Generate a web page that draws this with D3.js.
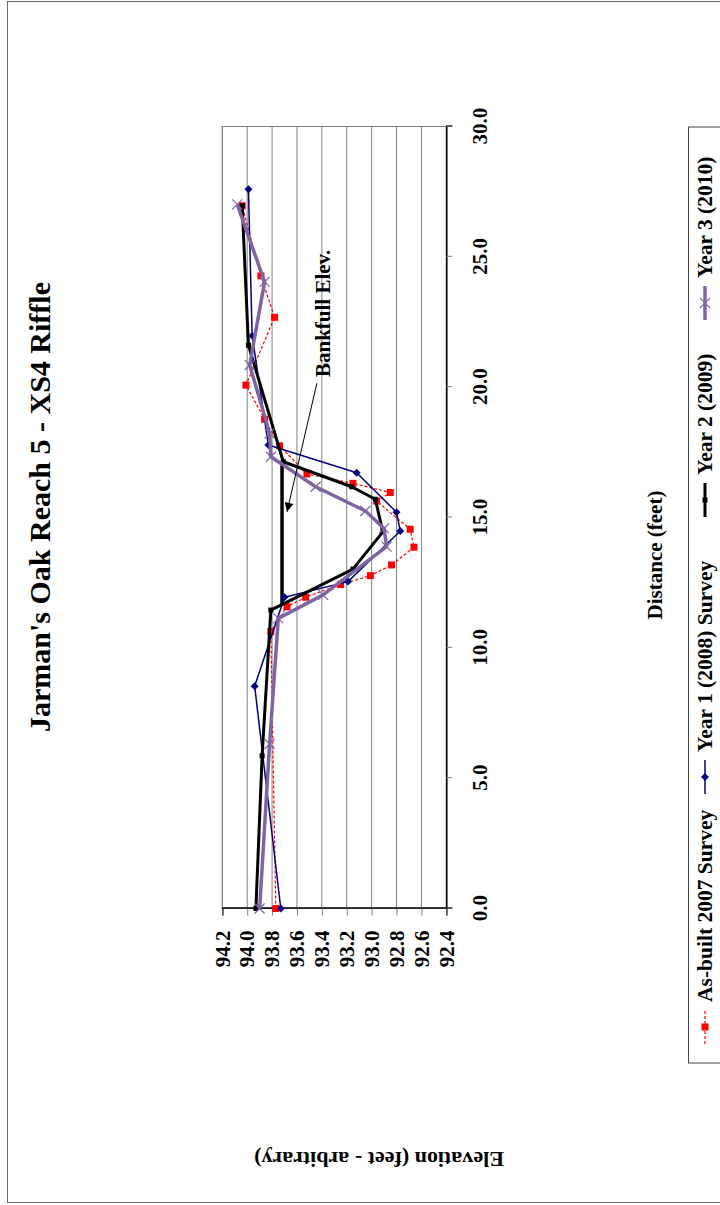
<!DOCTYPE html>
<html>
<head>
<meta charset="utf-8">
<script src="https://cdn.jsdelivr.net/npm/d3@7"></script>
<style>
  body { margin: 0; background: #fff; }
  text { font-family: "Liberation Serif", "Times New Roman", serif; font-weight: bold; fill: #000; }
</style>
</head>
<body>
<svg id="chart" width="720" height="1205"></svg>
<script>
// survey data, distance (feet) vs elevation (feet - arbitrary)
var asBuiltDist = [0, 10.62, 11.58, 11.94, 12.43, 12.77, 13.18, 13.86, 14.55, 15.63, 15.96, 16.31, 16.67, 17.75, 18.77, 20.08, 22.68, 24.27, 26.96];
var asBuiltElev = [93.77, 93.81, 93.68, 93.53, 93.25, 93.01, 92.84, 92.66, 92.69, 92.96, 92.85, 93.15, 93.52, 93.74, 93.86, 94.01, 93.78, 93.89, 94.04];

var year1Dist = [0, 8.53, 11.94, 12.54, 14.48, 15.2, 16.72, 17.78, 21.97, 27.59];
var year1Elev = [93.73, 93.94, 93.70, 93.19, 92.77, 92.80, 93.12, 93.83, 93.96, 93.99];

var year2Dist = [0, 5.86, 11.45, 13.02, 14.45, 15.70, 16.18, 17.14, 21.61, 26.96];
var year2Elev = [93.93, 93.88, 93.81, 93.15, 92.91, 92.97, 93.16, 93.71, 93.99, 94.04];

var year3Dist = [0, 6.31, 11.13, 12.03, 13.88, 14.58, 15.25, 16.18, 17.33, 18.23, 20.85, 24.04, 27.01];
var year3Elev = [93.90, 93.82, 93.75, 93.39, 92.88, 92.90, 93.05, 93.45, 93.81, 93.82, 93.98, 93.86, 94.08];

var bankfullDist = [11.62, 17.17];
var bankfullElev = [93.72, 93.72];

var seriesNames = ["As-built 2007 Survey", "Year 1 (2008) Survey", "Year 2 (2009)", "Year 3 (2010)"];
var distTicks = [0, 5, 10, 15, 20, 25, 30];
var elevTicks = [92.4, 92.6, 92.8, 93.0, 93.2, 93.4, 93.6, 93.8, 94.0, 94.2];

var W = 1205, H = 720;   // chart is laid out sideways, then turned
var svg = d3.select("#chart");

// outer frame
svg.append("rect").attr("x", 7.5).attr("y", 1.5).attr("width", 730).attr("height", 1201)
  .attr("fill", "none").attr("stroke", "#666");

var g = svg.append("g").attr("transform", "translate(0," + W + ") rotate(-90)");

var x = d3.scaleLinear().domain([0, 30]).range([296.5, 1078.5]);
var y = d3.scaleLinear().domain([92.4, 94.2]).range([446.3, 222.3]);

// gridlines
g.selectAll(".grid").data(elevTicks).enter().append("line")
  .attr("x1", x(0)).attr("x2", x(30))
  .attr("y1", function(d) { return y(d); }).attr("y2", function(d) { return y(d); })
  .attr("stroke", "#808080").attr("stroke-width", 1);

g.append("rect").attr("x", x(0)).attr("y", y(94.2))
  .attr("width", x(30) - x(0)).attr("height", y(92.4) - y(94.2))
  .attr("fill", "none").attr("stroke", "#808080");

// axes
var fmt = d3.format(".1f");
var xAxis = g.append("g").attr("transform", "translate(0," + y(92.4) + ")")
  .call(d3.axisBottom(x).tickValues(distTicks).tickSize(6).tickPadding(20).tickFormat(fmt));
var yAxis = g.append("g").attr("transform", "translate(" + x(0) + ",0)")
  .call(d3.axisLeft(y).tickValues(elevTicks).tickSize(7).tickPadding(15).tickFormat(fmt));
[xAxis, yAxis].forEach(function(a) {
  a.select(".domain").attr("stroke", "#000").attr("stroke-width", 1.5);
  a.selectAll(".tick line").attr("stroke", "#808080");
  a.selectAll("text").attr("font-size", "21px").attr("font-family", "Liberation Serif, serif").attr("font-weight", "bold");
});

var line = d3.line().x(function(d) { return x(d[0]); }).y(function(d) { return y(d[1]); });
function pairs(a, b) { return a.map(function(v, i) { return [v, b[i]]; }); }

var series = [
  { name: seriesNames[0], pts: pairs(asBuiltDist, asBuiltElev), color: "#FF0000", width: 1.2, dash: "3,2", marker: "square", size: 7 },
  { name: seriesNames[1], pts: pairs(year1Dist, year1Elev), color: "#000080", width: 1.5, dash: null, marker: "diamond", size: 8 },
  { name: seriesNames[2], pts: pairs(year2Dist, year2Elev), color: "#000000", width: 3, dash: null, marker: "square", size: 5 },
  { name: seriesNames[3], pts: pairs(year3Dist, year3Elev), color: "#8064A2", width: 3.5, dash: null, marker: "x", size: 10 }
];

function drawMarker(sel, s, px, py) {
  var h = s.size / 2;
  if (s.marker === "square") {
    sel.append("rect").attr("x", px - h).attr("y", py - h).attr("width", s.size).attr("height", s.size).attr("fill", s.color);
  } else if (s.marker === "diamond") {
    sel.append("path").attr("d", "M" + (px - h) + "," + py + "L" + px + "," + (py - h) + "L" + (px + h) + "," + py + "L" + px + "," + (py + h) + "Z").attr("fill", s.color);
  } else {
    sel.append("path").attr("d", "M" + (px - h) + "," + (py - h) + "L" + (px + h) + "," + (py + h) + "M" + (px - h) + "," + (py + h) + "L" + (px + h) + "," + (py - h))
      .attr("stroke", s.color).attr("stroke-width", 1.2).attr("fill", "none");
  }
}

// bankfull line
g.append("path").datum(pairs(bankfullDist, bankfullElev)).attr("d", line)
  .attr("fill", "none").attr("stroke", "#000").attr("stroke-width", 3.5);

series.forEach(function(s) {
  g.append("path").datum(s.pts).attr("d", line).attr("fill", "none")
    .attr("stroke", s.color).attr("stroke-width", s.width)
    .attr("stroke-dasharray", s.dash).attr("stroke-linejoin", "round");
  var mg = g.append("g");
  s.pts.forEach(function(p) { drawMarker(mg, s, x(p[0]), y(p[1])); });
});

// bankfull annotation
g.append("defs").append("marker").attr("id", "arr").attr("viewBox", "0 0 10 10")
  .attr("refX", 10).attr("refY", 5).attr("markerWidth", 12).attr("markerHeight", 9)
  .attr("markerUnits", "userSpaceOnUse").attr("orient", "auto")
  .append("path").attr("d", "M0,0L10,5L0,10Z").attr("fill", "#000");
g.append("line").attr("x1", x(20.15)).attr("y1", y(93.44)).attr("x2", x(15.22)).attr("y2", y(93.68))
  .attr("stroke", "#000").attr("stroke-width", 1).attr("marker-end", "url(#arr)");
g.append("text").attr("x", x(20.39)).attr("y", 330).attr("font-size", "21px").text("Bankfull Elev.");

// titles
g.append("text").attr("x", W - 507).attr("y", 50).attr("text-anchor", "middle").attr("font-size", "30px")
  .text("Jarman's Oak Reach 5 - XS4 Riffle");
g.append("text").attr("x", W - 555).attr("y", 662).attr("text-anchor", "middle").attr("font-size", "21px")
  .text("Distance (feet)");
g.append("text").attr("transform", "translate(53,379) rotate(-90)").attr("text-anchor", "middle").attr("font-size", "22px")
  .text("Elevation (feet - arbitrary)");

// legend
g.append("rect").attr("x", W - 1063).attr("y", 688.5).attr("width", 1063 - 127).attr("height", 40)
  .attr("fill", "#fff").attr("stroke", "#444");
var legendCenters = [1027, 777, 500, 303];
series.forEach(function(s, i) {
  var c = W - legendCenters[i];
  var lg = g.append("g");
  lg.append("line").attr("x1", c - 17).attr("x2", c + 17).attr("y1", 705).attr("y2", 705)
    .attr("stroke", s.color).attr("stroke-width", s.width).attr("stroke-dasharray", s.dash);
  drawMarker(lg, s, c, 705);
  lg.append("text").attr("x", c + 25).attr("y", 712).attr("font-size", "21.5px").text(s.name);
});
</script>
</body>
</html>
